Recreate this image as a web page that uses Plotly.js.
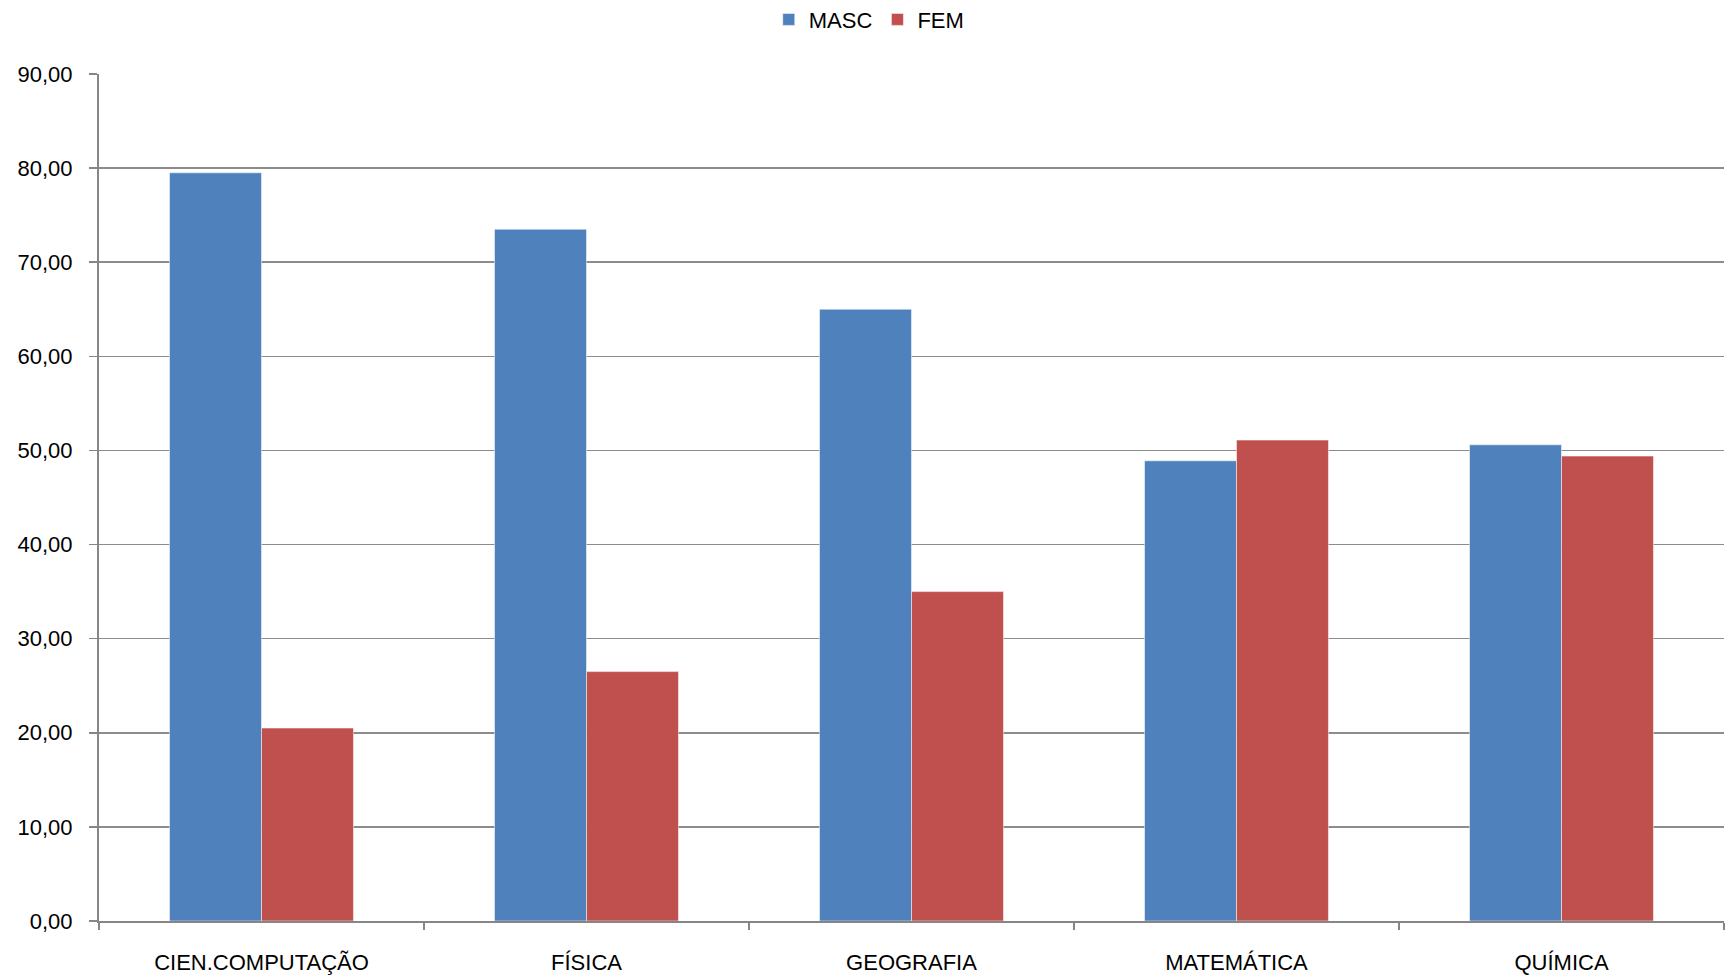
<!DOCTYPE html>
<html>
<head>
<meta charset="utf-8">
<script src="https://cdn.plot.ly/plotly-3.0.1.min.js"></script>
<style>html,body{margin:0;padding:0;background:#fff;}#chart{width:1726px;height:979px;}</style>
</head>
<body>
<div id="chart"></div>
<script>
const categories = ["CIEN.COMPUTAÇÃO", "FÍSICA", "GEOGRAFIA", "MATEMÁTICA", "QUÍMICA"];
const masc = [79.5, 73.5, 65.0, 48.9, 50.6];
const fem = [20.5, 26.5, 35.0, 51.1, 49.4];
const yTicks = [0, 10, 20, 30, 40, 50, 60, 70, 80, 90];

const font = {family: "Liberation Sans, Arial, sans-serif", size: 22, color: "#000"};
const traces = [
  {type: "bar", name: "MASC", x: categories, y: masc,
   marker: {color: "#4F81BD", line: {color: "rgba(255,255,255,0.5)", width: 1}}},
  {type: "bar", name: "FEM", x: categories, y: fem,
   marker: {color: "#C0504D", line: {color: "rgba(255,255,255,0.5)", width: 1}}}
];
const layout = {
  width: 1726, height: 979,
  margin: {l: 99, r: 2, t: 74, b: 58, autoexpand: false},
  paper_bgcolor: "#fff", plot_bgcolor: "#fff",
  separators: ",.",
  font: font,
  barmode: "group",
  bargap: 0.434,
  bargroupgap: 0,
  showlegend: true,
  legend: {orientation: "h", x: 0.474, xanchor: "center", xref: "paper",
           y: 0.98, yanchor: "middle", yref: "container",
           font: {family: font.family, size: 22, color: "#000"}, itemwidth: 30, traceorder: "normal"},
  xaxis: {
    type: "category", showgrid: false, showline: true, linecolor: "#868686", linewidth: 2,
    ticks: "outside", tickson: "boundaries", ticklen: 7, tickwidth: 1.5, tickcolor: "#868686",
    ticklabelstandoff: 21, tickfont: font, zeroline: false, automargin: false
  },
  yaxis: {
    range: [0, 90], tickvals: yTicks, tickformat: ".2f",
    showgrid: true, gridcolor: "#8c8c8c", gridwidth: 1.5,
    showline: true, linecolor: "#868686", linewidth: 2,
    ticks: "outside", ticklen: 8, tickwidth: 1.5, tickcolor: "#868686",
    ticklabelstandoff: 12, tickfont: font, zeroline: false, automargin: false
  }
};
Plotly.newPlot("chart", traces, layout, {displayModeBar: false, staticPlot: true});
</script>
</body>
</html>
